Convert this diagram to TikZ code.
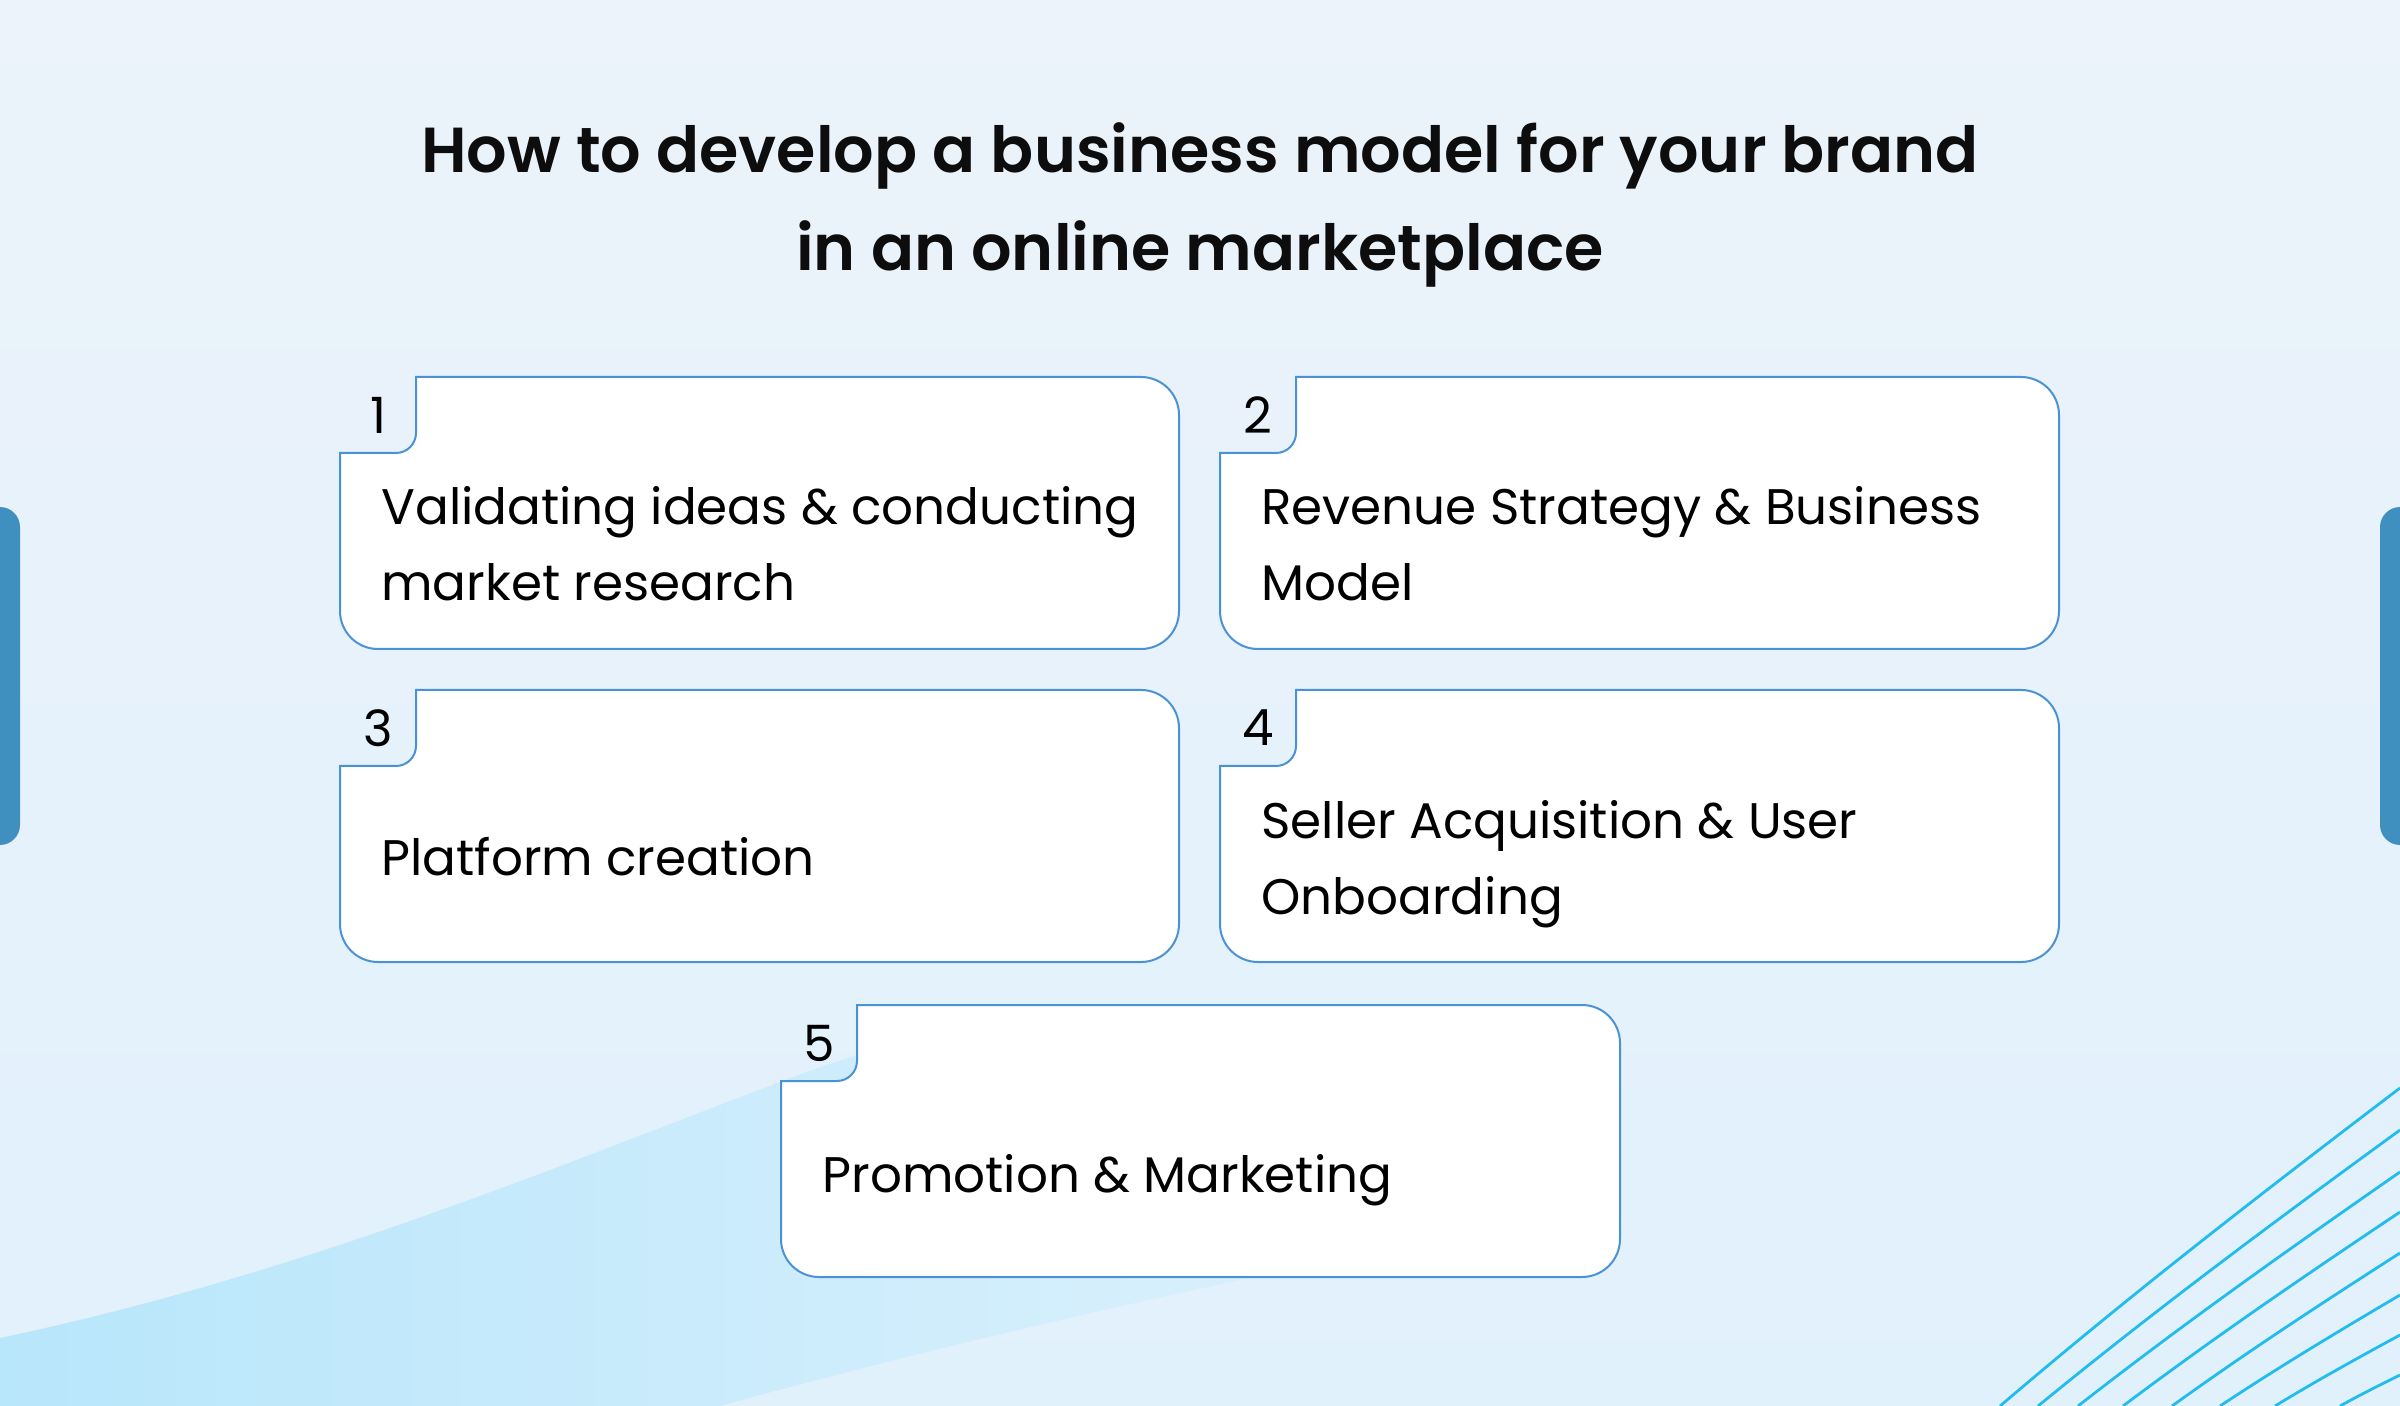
\documentclass[tikz,border=0pt]{standalone}
\usepackage{fontspec}
\setmainfont{Poppins}[StylisticSet=1]
\newfontfamily\titlefont{Poppins SemiBold}
\definecolor{bgtop}{HTML}{ECF3FA}
\definecolor{bgbot}{HTML}{E1F1FC}
\definecolor{cardblue}{HTML}{4A92D6}
\definecolor{barblue}{HTML}{3F8FBF}
\definecolor{waveleft}{HTML}{B8E6FB}
\definecolor{waveright}{HTML}{DDF1FC}
\definecolor{linecyan}{HTML}{22BCEE}
\newcommand{\stepcardshape}[2]{%
  \begin{scope}[shift={(#1,#2)}]
    \path[cardline] (76,0) -- (801,0) .. controls (822,0) and (839,17) .. (839,38)
      -- (839,234) .. controls (839,255) and (822,272) .. (801,272)
      -- (38,272) .. controls (17,272) and (0,255) .. (0,234)
      -- (0,76) -- (56,76) .. controls (67,76) and (76,67) .. (76,56) -- cycle;
  \end{scope}}
\begin{document}
\begin{tikzpicture}[x=0.5pt,y=-0.5pt,
  cardline/.style={draw=cardblue,line width=1pt,fill=white},
  cardtext/.style={anchor=base west,align=left,font=\fontsize{25}{38}\selectfont,inner sep=0pt,text=black},
  cardnum/.style={anchor=center,font=\fontsize{25}{30}\selectfont,inner sep=0pt,text=black},
  titletext/.style={align=center,font=\titlefont\fontsize{31.8}{49}\selectfont,inner sep=0pt,text=black!95},
  wline/.style={draw=linecyan,line width=1.4pt}]
\useasboundingbox (0,0) rectangle (2400,1406);
\begin{scope}
\clip (0,0) rectangle (2400,1406);
\shade[top color=bgtop,bottom color=bgbot] (0,0) rectangle (2400,1406);
% wave
\shade[left color=waveleft,right color=waveright]
  (0,1406) -- (0,1338) .. controls (300,1275) and (560,1165) .. (780,1082)
  .. controls (950,1015) and (1100,1010) .. (1300,1010)
  -- (1450,1150) .. controls (1350,1230) and (1300,1265) .. (1250,1278)
  .. controls (1050,1320) and (850,1370) .. (720,1406) -- cycle;
% lines bottom right
\foreach \ya/\xb in {1088/2000,1130/2038,1172/2078,1212/2123,1253/2172,1295/2220,1335/2275,1375/2340}{
  \draw[wline] (2400,\ya) .. controls ({2400-0.45*(2400-\xb)},{\ya+0.43*(1406-\ya)}) and ({2400-0.72*(2400-\xb)},{\ya+0.70*(1406-\ya)}) .. (\xb,1406);
}
% side bars
\fill[barblue] (0,507) .. controls (11,507) and (20,516) .. (20,527) -- (20,825) .. controls (20,836) and (11,845) .. (0,845) -- cycle;
\fill[barblue] (2400,507) .. controls (2389,507) and (2380,516) .. (2380,527) -- (2380,825) .. controls (2380,836) and (2389,845) .. (2400,845) -- cycle;
\end{scope}
% title (base anchor = last line)
\node[titletext,anchor=base] (title) at (1200,271) {How to develop a business model for your brand\\in an online marketplace};
% cards
\stepcardshape{340}{377}
\stepcardshape{1220}{377}
\stepcardshape{340}{690}
\stepcardshape{1220}{690}
\stepcardshape{781}{1005}
\node[cardnum] (n1) at (378,415) {1};
\node[cardnum] (n2) at (1258,415) {2};
\node[cardnum] (n3) at (378,728) {3};
\node[cardnum] (n4) at (1258,728) {4};
\node[cardnum] (n5) at (819,1043) {5};
\node[cardtext] (c1) at (381,601) {Validating ideas \& conducting\\market research};
\node[cardtext] (c2) at (1261,601) {Revenue Strategy \& Business\\Model};
\node[cardtext] (c3) at (381,875) {Platform creation};
\node[cardtext] (c4) at (1261,914) {Seller Acquisition \& User\\Onboarding};
\node[cardtext] (c5) at (822,1192) {Promotion \& Marketing};
\end{tikzpicture}
\end{document}
